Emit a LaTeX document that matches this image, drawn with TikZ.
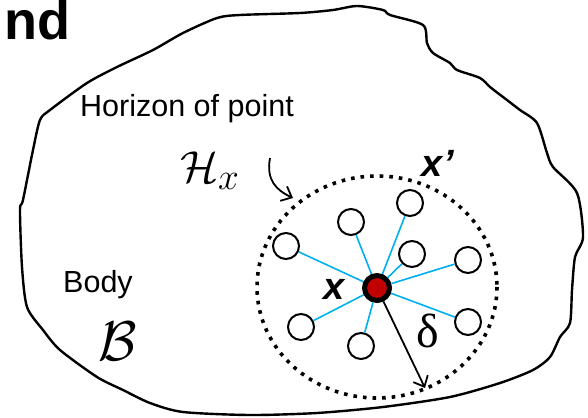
\documentclass[tikz,border=0pt]{standalone}
\usepackage{fontspec}
\setmainfont{Liberation Sans}
\newfontfamily\grkfont{Liberation Serif}
\usetikzlibrary{arrows.meta}
\definecolor{linkblue}{HTML}{00B0F0}
\definecolor{ptred}{HTML}{C00000}
\tikzset{
  outline/.style={line width=2.4pt, line join=round},
  nbr/.style={circle, draw=black, fill=white, line width=2pt, minimum size=26pt, inner sep=0pt},
  ctr/.style={circle, draw=black, fill=ptred, line width=5pt, minimum size=25pt, inner sep=0pt},
  bond/.style={draw=linkblue, line width=1.6pt},
  horizon/.style={line width=3.6pt, dash pattern=on 3.6pt off 6pt},
  pointer/.style={line width=1.8pt, -{Straight Barb[length=9pt, width=16pt, line width=1.8pt]}},
  lbl/.style={inner sep=0pt, font=\fontsize{30.5}{32}\selectfont},
  vec/.style={inner sep=0pt, font=\fontsize{38}{40}\selectfont\bfseries\itshape},
  mathlbl/.style={inner sep=0pt, font=\Huge}
}
\begin{document}
\begin{tikzpicture}[x=1pt, y=-1pt]
\useasboundingbox (0,0) rectangle (588,417);
% body outline
\draw[outline] plot[smooth cycle, tension=0.45] coordinates {
 (23,200) (33,150) (40,120) (50,110) (87,83) (117,67) (153,50) (183,33) (217,18) (240,15)
 (300,13) (333,10) (357,6) (383,10) (390,15) (423,25) (427,43) (433,53) (450,63) (457,70)
 (480,78) (490,87) (503,97) (520,110) (537,123) (547,153) (553,167) (577,193) (583,237)
 (575,257) (572,290) (570,323) (560,337) (550,357) (533,370) (500,383) (450,397) (383,407)
 (317,413) (250,415) (183,412) (150,403) (123,390) (97,377) (60,350) (43,330) (27,307)
 (22,267) (20,210)};
% horizon
\draw[horizon] (377,287) ellipse [x radius=120, y radius=111];
% centre and neighbours
\node[ctr] (c) at (377,288) {};
\node[nbr] (n1) at (286,246) {};
\node[nbr] (n2) at (351,222) {};
\node[nbr] (n3) at (410,203) {};
\node[nbr] (n4) at (412,254) {};
\node[nbr] (n5) at (468,260) {};
\node[nbr] (n6) at (468,322) {};
\node[nbr] (n7) at (361,346) {};
\node[nbr] (n8) at (301,327) {};
\foreach \n in {n1,n2,n3,n4,n5,n6,n7,n8} \draw[bond] (c) -- (\n);
% delta
\coordinate (dtip) at (425,388);
\draw[pointer] (c) -- (dtip);
\node[inner sep=0pt, font=\fontsize{48}{50}\selectfont\grkfont] (delta) at (428,331) {δ};
% curved pointer to horizon
\coordinate (hs) at (270,158);
\coordinate (he) at (293,198);
\draw[pointer] (hs) .. controls (266,180) and (276,190) .. (he);
% labels
\node[lbl, anchor=base west] (hor) at (80,117) {Horizon of point};
\node[lbl, anchor=base west] (body) at (63,292) {Body};
\node[mathlbl, scale=1.8] (hx) at (210,171) {$\mathcal{H}_x$};
\node[mathlbl, scale=2.25] (bb) at (118,341) {$\mathcal{B}$};
\node[vec] (xl) at (334,289) {x};
\node[vec] (xp) at (438,163) {x\kern1pt'};
\node[inner sep=0pt, anchor=base east, font=\fontsize{54}{56}\selectfont\bfseries] (nd) at (71,40) {nd};
\end{tikzpicture}
\end{document}
